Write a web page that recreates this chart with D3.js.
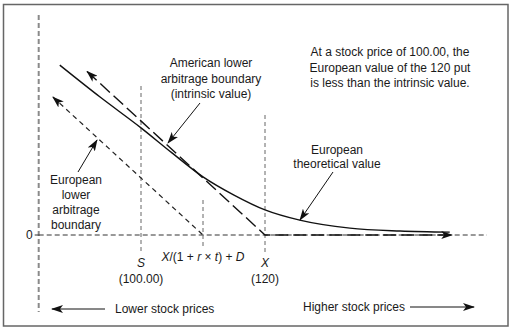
<!DOCTYPE html>
<html>
<head>
<meta charset="utf-8">
<script src="https://cdn.jsdelivr.net/npm/d3@7/dist/d3.min.js"></script>
<style>
  html, body { margin: 0; padding: 0; background: #fff; }
  svg { display: block; font-family: "Liberation Sans", Arial, Helvetica, sans-serif; }
  text { fill: #1a1a1a; font-size: 12px; }
</style>
</head>
<body>
<svg id="chart" width="511" height="331"></svg>
<script>
// Put option value vs. stock price (strike 120, stock at 100)
const spot = 100;
const strike = 120;
const discountedStrike = 110;           // X/(1 + r×t) + D

// European theoretical value curve
const curvePrices = [86.9, 93.4, 100, 105, 110, 115, 120, 125.6, 133.7, 141.8, 149.8];
const curveValues = [29.8, 24.2, 18.8, 14.4, 10.2, 7.0, 4.4, 2.6, 1.2, 0.7, 0.5];

// American lower arbitrage boundary (intrinsic value)
const intrinsicPrices = [91.3, strike, 150.2];
const intrinsicValues = [28.7, 0, 0];

// European lower arbitrage boundary
const lowerPrices = [85.8, discountedStrike];
const lowerValues = [24.2, 0];

// Price axis extent
const axisPrices = [83.5, 155.8];

const svg = d3.select("#chart");

const x = d3.scaleLinear().domain([100, 120]).range([141, 265]);
const y = d3.scaleLinear().domain([0, 30]).range([235, 64]);

// frame
svg.append("rect")
  .attr("x", 3.5).attr("y", 4.5).attr("width", 504.5).attr("height", 321.5)
  .attr("fill", "none").attr("stroke", "#666").attr("stroke-width", 1.5);

// arrowhead markers
const defs = svg.append("defs");
defs.append("marker")
  .attr("id", "head")
  .attr("viewBox", "0 0 12 8")
  .attr("refX", 11).attr("refY", 4)
  .attr("markerWidth", 12).attr("markerHeight", 8)
  .attr("markerUnits", "userSpaceOnUse")
  .attr("orient", "auto-start-reverse")
  .append("path")
  .attr("d", "M0,0 L12,4 L0,8 L3,4 Z")
  .attr("fill", "#111");

// vertical value axis (dashed)
svg.append("line")
  .attr("x1", x(axisPrices[0])).attr("x2", x(axisPrices[0]))
  .attr("y1", 15).attr("y2", 312)
  .attr("stroke", "#8a8a8a").attr("stroke-width", 2)
  .attr("stroke-dasharray", "5,3");

// zero line
svg.append("line")
  .attr("x1", x(axisPrices[0])).attr("x2", x(axisPrices[1]))
  .attr("y1", y(0)).attr("y2", y(0))
  .attr("stroke", "#333").attr("stroke-width", 1)
  .attr("stroke-dasharray", "5,3");
svg.append("line")
  .attr("x1", x(axisPrices[0]) - 4).attr("x2", x(axisPrices[0]))
  .attr("y1", y(0)).attr("y2", y(0))
  .attr("stroke", "#333").attr("stroke-width", 1);
svg.append("text")
  .attr("x", x(axisPrices[0]) - 6).attr("y", y(0) + 4)
  .attr("text-anchor", "end").text("0");

// reference verticals: S, X/(1+r×t)+D, X
const vlines = [
  { p: spot, top: 86, bottom: 252 },
  { p: discountedStrike, top: 200, bottom: 248 },
  { p: strike, top: 115, bottom: 252 }
];
svg.selectAll("line.vref").data(vlines).enter().append("line")
  .attr("class", "vref")
  .attr("x1", d => x(d.p)).attr("x2", d => x(d.p))
  .attr("y1", d => d.top).attr("y2", d => d.bottom)
  .attr("stroke", "#666").attr("stroke-width", 1)
  .attr("stroke-dasharray", "4,3");

const line = d3.line().x(d => x(d[0])).y(d => y(d[1]));

// European lower arbitrage boundary
svg.append("path")
  .datum(d3.zip(lowerPrices, lowerValues))
  .attr("d", line)
  .attr("fill", "none").attr("stroke", "#222").attr("stroke-width", 1.2)
  .attr("stroke-dasharray", "5,4")
  .attr("marker-start", "url(#head)");

// intrinsic value
svg.append("path")
  .datum(d3.zip(intrinsicPrices, intrinsicValues))
  .attr("d", line)
  .attr("fill", "none").attr("stroke", "#111").attr("stroke-width", 1.4)
  .attr("stroke-dasharray", "13,5")
  .attr("marker-start", "url(#head)")
  .attr("marker-end", "url(#head)");

// European theoretical value
svg.append("path")
  .datum(d3.zip(curvePrices, curveValues))
  .attr("d", line.curve(d3.curveMonotoneX))
  .attr("fill", "none").attr("stroke", "#111").attr("stroke-width", 1.4);

// pointer arrows
const pointers = [
  [200, 103, 168, 143],
  [78, 172, 97, 140],
  [333, 172, 300, 220],
  [105, 309, 52, 309],
  [410, 307, 474, 307]
];
svg.selectAll("line.ptr").data(pointers).enter().append("line")
  .attr("class", "ptr")
  .attr("x1", d => d[0]).attr("y1", d => d[1])
  .attr("x2", d => d[2]).attr("y2", d => d[3])
  .attr("stroke", "#111").attr("stroke-width", 1)
  .attr("marker-end", "url(#head)");

// multi-line labels
function block(cx, y0, lh, lines) {
  const t = svg.append("text").attr("text-anchor", "middle");
  lines.forEach((s, i) => {
    t.append("tspan").attr("x", cx).attr("y", y0 + i * lh).text(s);
  });
}
block(211, 67, 15.5, ["American lower", "arbitrage boundary", "(intrinsic value)"]);
block(76, 184, 15, ["European", "lower", "arbitrage", "boundary"]);
block(337, 154, 14, ["European", "theoretical value"]);
block(390, 56, 15.5, ["At a stock price of 100.00, the",
                      "European value of the 120 put",
                      "is less than the intrinsic value."]);

// price labels
svg.append("text").attr("x", x(spot)).attr("y", 267).attr("text-anchor", "middle")
  .style("font-style", "italic").text("S");
svg.append("text").attr("x", x(spot)).attr("y", 283).attr("text-anchor", "middle").text("(100.00)");
svg.append("text").attr("x", x(strike)).attr("y", 267).attr("text-anchor", "middle")
  .style("font-style", "italic").text("X");
svg.append("text").attr("x", x(strike)).attr("y", 283).attr("text-anchor", "middle").text("(120)");

const f = svg.append("text").attr("x", x(discountedStrike)).attr("y", 261).attr("text-anchor", "middle");
[["X", true], ["/(1 + ", false], ["r", true], [" × ", false], ["t", true], [") + ", false], ["D", true]]
  .forEach(([s, it]) => f.append("tspan").style("font-style", it ? "italic" : "normal").text(s));

svg.append("text").attr("x", 115).attr("y", 313).text("Lower stock prices");
svg.append("text").attr("x", 303).attr("y", 311).text("Higher stock prices");
</script>
</body>
</html>
